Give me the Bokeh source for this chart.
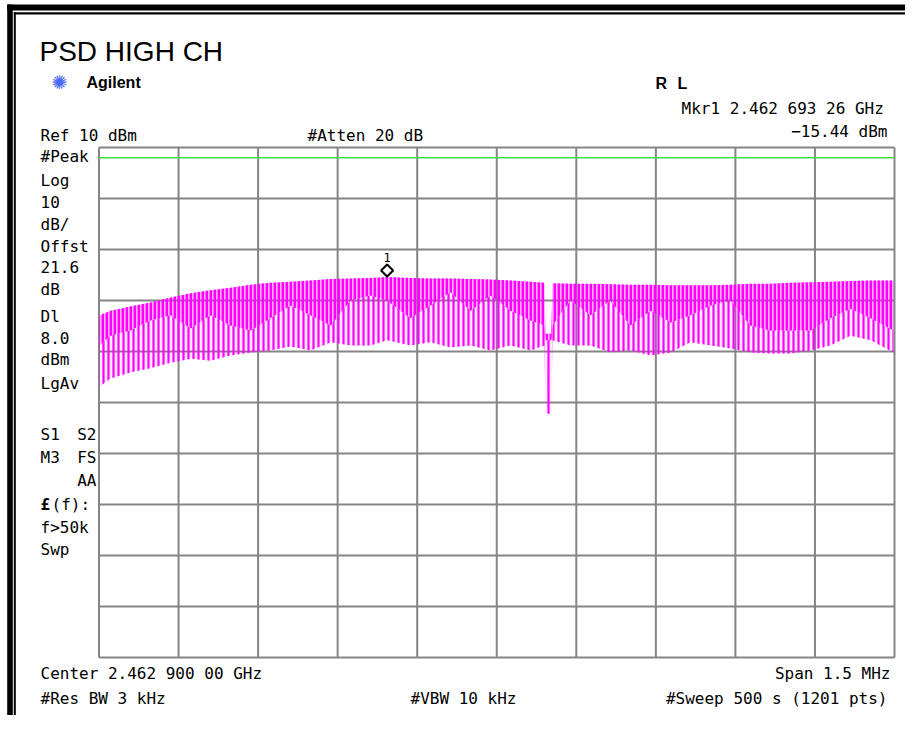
from bokeh.plotting import figure
from bokeh.models import Range1d, Label, BoxAnnotation
from bokeh.embed import file_html
from bokeh.resources import INLINE

# ---------------- data ----------------
center_mhz = 2462.9
span_mhz = 1.5
ref_dbm = 10.0
db_per_div = 10.0
display_line_dbm = 8.0
mkr_freq_mhz = 2462.69326
mkr_dbm = -15.44

freq_ticks_mhz = [2462.15, 2462.30, 2462.45, 2462.60, 2462.75, 2462.90,
                  2463.05, 2463.20, 2463.35, 2463.50, 2463.65]
level_ticks_dbm = [10, 0, -10, -20, -30, -40, -50, -60, -70, -80, -90]

trace_freq_mhz = [2462.151, 2462.172, 2462.209, 2462.247, 2462.285, 2462.323,
                  2462.360, 2462.398, 2462.436, 2462.473, 2462.511, 2462.549,
                  2462.587, 2462.624, 2462.662, 2462.693, 2462.737, 2462.775,
                  2462.813, 2462.851, 2462.888, 2462.926, 2462.964, 2462.990,
                  2462.992, 2463.003, 2463.005, 2463.039, 2463.077, 2463.114,
                  2463.152, 2463.190, 2463.228, 2463.265, 2463.303, 2463.341,
                  2463.378, 2463.416, 2463.454, 2463.492, 2463.529, 2463.567,
                  2463.605, 2463.648]
# top of the teeth
trace_peak_dbm = [-22.9, -22.0, -21.2, -20.4, -19.4, -18.6, -18.0, -17.5, -16.9,
                  -16.5, -16.3, -16.1, -15.8, -15.7, -15.6, -15.4, -15.6, -15.7,
                  -15.7, -15.8, -15.9, -16.1, -16.3, -16.5, -26.5, -26.5, -16.6,
                  -16.7, -16.7, -16.8, -16.9, -16.9, -17.0, -17.0, -17.0, -16.9,
                  -16.7, -16.7, -16.5, -16.4, -16.3, -16.2, -16.1, -16.1]
# bottom of the dense part of the trace
trace_inner_dbm = [-28.8, -26.9, -25.9, -23.9, -22.9, -25.5, -22.9, -24.9, -25.9,
                   -23.5, -21.0, -22.9, -24.9, -20.0, -19.0, -20.0, -23.5, -21.0,
                   -18.4, -22.0, -19.0, -22.0, -23.9, -24.9, -27.8, -27.8, -24.9,
                   -20.0, -22.9, -20.0, -24.9, -22.0, -24.3, -22.9, -21.0, -20.0,
                   -24.9, -25.9, -25.9, -25.9, -23.5, -21.6, -23.5, -25.9]
# bottom of the longest teeth
trace_floor_dbm = [-36.9, -35.3, -34.1, -33.3, -32.2, -31.4, -31.8, -30.8, -30.2,
                   -29.8, -29.0, -29.8, -28.2, -28.8, -28.8, -27.8, -28.8, -28.2,
                   -29.2, -28.8, -29.8, -28.8, -29.8, -28.8, -42.2, -42.2, -27.8,
                   -28.8, -28.8, -30.2, -29.8, -30.8, -30.2, -28.2, -28.8, -29.4,
                   -30.2, -30.4, -30.4, -29.8, -28.8, -26.9, -27.8, -30.2]

# ---------------- layout (pixels) ----------------
W, H = 905, 715
PL, PR, PT, PB = 98.5, 894.0, 147.0, 657.0   # graticule edges in canvas px
f_start = center_mhz - span_mhz / 2
f_stop = center_mhz + span_mhz / 2
lvl_top = ref_dbm
lvl_bot = ref_dbm - 10 * db_per_div
mhz_per_px = (f_stop - f_start) / (PR - PL)
db_per_px = (lvl_top - lvl_bot) / (PB - PT)
x0 = f_start - PL * mhz_per_px
y_hi = lvl_top + PT * db_per_px

p = figure(width=W, height=H,
           x_range=Range1d(x0, x0 + W * mhz_per_px),
           y_range=Range1d(y_hi - H * db_per_px, y_hi),
           x_axis_location=None, y_axis_location=None,
           toolbar_location=None, output_backend="svg",
           min_border=0)
p.background_fill_color = "white"
p.border_fill_color = "white"
p.outline_line_color = None
for g in p.grid:
    g.visible = False

GRID = "#858585"
n_f, n_l = len(freq_ticks_mhz), len(level_ticks_dbm)
p.segment(x0=freq_ticks_mhz, x1=freq_ticks_mhz,
          y0=[level_ticks_dbm[-1]] * n_f, y1=[level_ticks_dbm[0]] * n_f,
          line_color=GRID, line_width=2)
p.segment(x0=[freq_ticks_mhz[0]] * n_l, x1=[freq_ticks_mhz[-1]] * n_l,
          y0=level_ticks_dbm, y1=level_ticks_dbm,
          line_color=GRID, line_width=2)

# display line
p.segment(x0=[f_start], x1=[f_stop], y0=[display_line_dbm],
          y1=[display_line_dbm], line_color="#3ee23e", line_width=1.5)

MAG = "#ff00ff"
# long teeth (sparser)
p.varea(x=trace_freq_mhz, y1=trace_floor_dbm, y2=trace_inner_dbm,
        fill_color=MAG, fill_alpha=0.08, hatch_pattern="vertical_line",
        hatch_color=MAG, hatch_scale=5, hatch_weight=2.2, hatch_alpha=1.0)
# dense part
p.varea(x=trace_freq_mhz, y1=trace_inner_dbm, y2=trace_peak_dbm,
        fill_color=MAG, fill_alpha=0.3, hatch_pattern="vertical_line",
        hatch_color=MAG, hatch_scale=4, hatch_weight=2.8, hatch_alpha=1.0)

# marker 1
p.scatter([mkr_freq_mhz], [mkr_dbm + 6.7 * db_per_px], marker="square",
          angle=0.785398, size=8.5, fill_color="white", line_color="black",
          line_width=2)
p.add_layout(Label(x=mkr_freq_mhz, y=mkr_dbm, y_offset=20, text="1",
                   text_font="DejaVu Sans Mono", text_font_size="12px",
                   text_align="center", text_baseline="alphabetic",
                   text_color="black"))

MONO = "DejaVu Sans Mono"


def lab(X, Y, text, size=16, font=MONO, align="left", style="normal",
        color="black", baseline="alphabetic"):
    shift = 0.32 * size if baseline == "alphabetic" else 0
    p.add_layout(Label(x=X, y=H - Y + shift, x_units="screen",
                       y_units="screen", text=text, text_font=font,
                       text_font_size=f"{size}px", text_align=align,
                       text_font_style=style, text_color=color,
                       text_baseline=baseline))


lab(39, 60, "PSD HIGH CH", size=28, font="Liberation Sans")
lab(59, 81, "\u273a", size=19, font="DejaVu Sans", align="center",
    color="#4a6af5", baseline="middle")
lab(86, 87, "Agilent", size=16, font="Liberation Sans", style="bold")
lab(655, 88, "R", size=16, font="Liberation Sans", style="bold")
lab(677, 88, "L", size=16, font="Liberation Sans", style="bold")
lab(893, 113, "Mkr1  2.462 693 26 GHz", align="right")
lab(887, 136, "\u221215.44 dBm", align="right")
lab(40, 140, "Ref 10 dBm")
lab(307, 140, "#Atten 20 dB")

left_col = [("#Peak", 161), ("Log", 185), ("10", 207), ("dB/", 229),
            ("Offst", 251), ("21.6", 272), ("dB", 294), ("Dl", 321),
            ("8.0", 343), ("dBm", 364), ("LgAv", 388), ("S1", 439),
            ("M3", 462), ("f>50k", 532), ("Swp", 554)]
for t, Y in left_col:
    lab(40, Y, t)
lab(96, 439, "S2", align="right")
lab(96, 462, "FS", align="right")
lab(96, 485, "AA", align="right")
lab(40, 509, "\u00a3", style="bold")
lab(51, 509, "(f):")

lab(40, 678, "Center 2.462 900 00 GHz")
lab(890, 678, "Span 1.5 MHz", align="right")
lab(40, 703, "#Res BW 3 kHz")
lab(410, 703, "#VBW 10 kHz")
lab(887, 703, "#Sweep 500 s (1201 pts)", align="right")


# outer frame of the screenshot
def box(xa, xb, ya, yb):
    p.add_layout(BoxAnnotation(left=xa, right=xb, top=H - ya, bottom=H - yb,
                               left_units="screen", right_units="screen",
                               top_units="screen", bottom_units="screen",
                               fill_color="black", fill_alpha=1.0,
                               line_color=None))


box(6.7, 12.3, 4, 740)      # thick left
box(6.7, 930, 4, 10)        # thick top
box(13.3, 15.3, 11.7, 729)  # thin left
box(13.3, 930, 11.7, 14)    # thin top
box(13.3, 930, 727, 729)    # thin bottom

open("out.html", "w").write(file_html(p, INLINE))
